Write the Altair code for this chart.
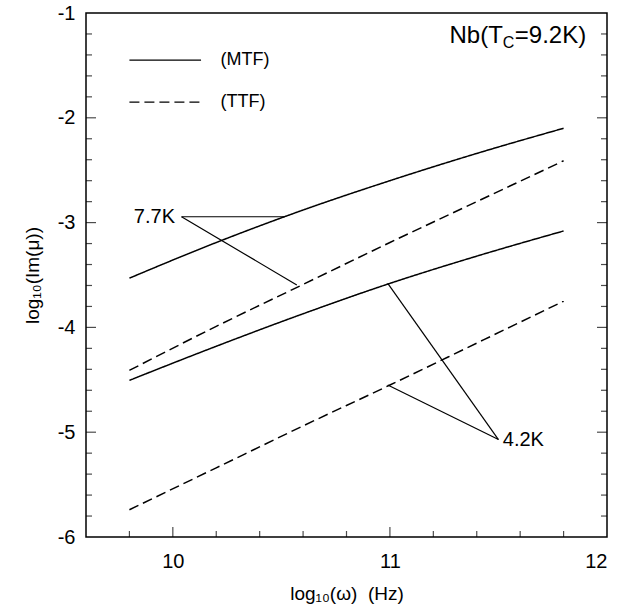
import altair as alt
import pandas as pd

# ---- data ----
X_PTS = [9.8, 10.2, 10.6, 11.0, 11.4, 11.8]
MTF_77 = [-3.53, -3.19, -2.88, -2.60, -2.34, -2.10]
TTF_77 = [-4.41, -3.99, -3.59, -3.19, -2.80, -2.41]
MTF_42 = [-4.505, -4.18, -3.87, -3.58, -3.32, -3.08]
TTF_42 = [-5.74, -5.34, -4.94, -4.55, -4.15, -3.75]

X_TICKS = [10, 11, 12]
Y_TICKS = [-1, -2, -3, -4, -5, -6]

# legend (drawn inside the frame)
LEG_KIND = ["MTF", "TTF"]
LEG_TEXT = ["(MTF)", "(TTF)"]
LEG_X1 = [9.8, 9.8]
LEG_X2 = [10.13, 10.13]
LEG_Y = [-1.45, -1.85]
LEG_TX = [10.22, 10.22]

# annotation leaders
LEAD_X1 = [10.04, 10.04, 11.50, 11.50]
LEAD_Y1 = [-2.944, -2.944, -5.07, -5.07]
LEAD_X2 = [10.517, 10.571, 10.99, 10.99]
LEAD_Y2 = [-2.944, -3.595, -3.58, -4.55]

LAB77 = {"t": "7.7K", "x": 10.01, "y": -2.944}
LAB42 = {"t": "4.2K", "x": 11.52, "y": -5.07}
NB = {"a": "Nb(T", "b": "C", "c": "=9.2K)", "x": 11.52, "y": -1.22}

FONT = "Liberation Sans"

rows = []
for temp, kind, ys in [("7.7K", "MTF", MTF_77), ("7.7K", "TTF", TTF_77),
                       ("4.2K", "MTF", MTF_42), ("4.2K", "TTF", TTF_42)]:
    for x, y in zip(X_PTS, ys):
        rows.append({"x": x, "y": y, "temp": temp, "kind": kind, "s": temp + kind})
curves = pd.DataFrame(rows)

xs = alt.Scale(domain=[9.6, 12], nice=False, zero=False)
ys_ = alt.Scale(domain=[-6, -1], nice=False, zero=False)
dash = alt.StrokeDash("kind:N", scale=alt.Scale(domain=["MTF", "TTF"], range=[[1, 0], [10, 5]]), legend=None)

base_x = alt.X("x:Q", scale=xs, axis=alt.Axis(
    values=X_TICKS, ticks=False, domain=False, grid=False, labelExpr="toString(datum.value)",
    labelFont=FONT, labelFontSize=20, labelColor="black", labelPadding=14,
    title="log₁₀(ω)\u00a0\u00a0(Hz)", titleFont=FONT, titleFontSize=19, titleFontWeight="normal",
    titleColor="black", titlePadding=13))
base_y = alt.Y("y:Q", scale=ys_, axis=alt.Axis(
    values=Y_TICKS, ticks=False, domain=False, grid=False, labelExpr="toString(datum.value)",
    labelFont=FONT, labelFontSize=20, labelColor="black", labelPadding=11,
    title="log₁₀(Im(μ))", titleFont=FONT, titleFontSize=19, titleFontWeight="normal",
    titleColor="black", titlePadding=15))

lines = alt.Chart(curves).mark_line(color="black", strokeWidth=1.5, interpolate="monotone").encode(
    x=base_x, y=base_y, detail="s:N", order="x:Q", strokeDash=dash)

leg = pd.DataFrame({"kind": LEG_KIND, "x": LEG_X1, "x2": LEG_X2, "y": LEG_Y, "tx": LEG_TX, "t": LEG_TEXT})
leg_lines = alt.Chart(leg).mark_rule(color="black", strokeWidth=1.4).encode(
    x=alt.X("x:Q", scale=xs), x2="x2:Q", y=alt.Y("y:Q", scale=ys_), strokeDash=dash)
leg_text = alt.Chart(leg).mark_text(align="left", baseline="middle", font=FONT, fontSize=18, color="black").encode(
    x=alt.X("tx:Q", scale=xs), y=alt.Y("y:Q", scale=ys_), text="t:N")

lead = pd.DataFrame({"x": LEAD_X1, "y": LEAD_Y1, "x2": LEAD_X2, "y2": LEAD_Y2})
leaders = alt.Chart(lead).mark_rule(color="black", strokeWidth=1.2).encode(
    x=alt.X("x:Q", scale=xs), y=alt.Y("y:Q", scale=ys_), x2="x2:Q", y2="y2:Q")

def txt(d, align, size=20, dx=0, dy=0, key="t"):
    df = pd.DataFrame({"x": [d["x"]], "y": [d["y"]], "t": [d[key]]})
    return alt.Chart(df).mark_text(align=align, baseline="middle", font=FONT, fontSize=size,
                                   color="black", dx=dx, dy=dy).encode(
        x=alt.X("x:Q", scale=xs), y=alt.Y("y:Q", scale=ys_), text="t:N")

t77 = txt(LAB77, "right")
t42 = txt(LAB42, "left")
nb_a = txt(NB, "right", size=24, key="a")
nb_b = txt(NB, "left", size=16, dy=7, key="b")
nb_c = txt(NB, "left", size=24, dx=12, key="c")

# inward tick marks on left, right and bottom edges
y_minor = [round(-6 + 0.2 * i, 1) for i in range(1, 25) if (i % 5) != 0]
x_minor = [round(9.6 + 0.2 * i, 1) for i in range(1, 12) if round(9.6 + 0.2 * i, 1) not in (10.0, 11.0)]
ymaj = pd.DataFrame({"y": [-2, -3, -4, -5]})
ymin = pd.DataFrame({"y": y_minor})
xmaj = pd.DataFrame({"x": [10, 11]})
xmin = pd.DataFrame({"x": x_minor})

def yt(df, xpos, size, off):
    return alt.Chart(df).mark_tick(orient="horizontal", size=size, thickness=1.2, color="black",
                                   xOffset=off).encode(x=alt.datum(xpos, scale=xs), y=alt.Y("y:Q", scale=ys_))

def xt(df, size):
    return alt.Chart(df).mark_tick(orient="vertical", size=size, thickness=1.2, color="black",
                                   yOffset=-size / 2).encode(x=alt.X("x:Q", scale=xs), y=alt.datum(-6, scale=ys_))

ticks = [yt(ymaj, 9.6, 10, 5), yt(ymin, 9.6, 6, 3), yt(ymaj, 12, 10, -5), yt(ymin, 12, 6, -3),
         xt(xmaj, 10), xt(xmin, 6)]

chart = alt.layer(lines, leg_lines, leg_text, leaders, t77, t42, nb_a, nb_b, nb_c, *ticks).properties(
    width=521, height=524,
    autosize=alt.AutoSizeParams(type="none"),
    padding={"left": 86, "top": 13, "right": 27, "bottom": 77},
    background="white",
).configure_view(stroke="black", strokeWidth=1.5)

chart.save("out.html", embed_options={"renderer": "svg", "actions": False})
